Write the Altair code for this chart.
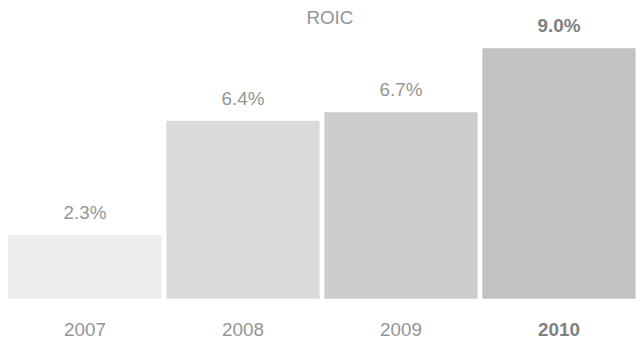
import altair as alt
import pandas as pd

# Return on invested capital by year
years = ["2007", "2008", "2009", "2010"]
roic = [2.3, 6.4, 6.7, 9.0]
labels = ["2.3%", "6.4%", "6.7%", "9.0%"]
shades = ["#ededed", "#dadada", "#cdcdcd", "#c2c2c2"]

df = pd.DataFrame({"year": years, "roic": roic, "label": labels, "shade": shades})
df["latest"] = df["year"] == years[-1]

FONT = "Liberation Sans"
TEXT_GREY = "#959595"
LATEST_GREY = "#808080"

x = alt.X(
    "year:N",
    sort=years,
    scale=alt.Scale(paddingInner=0.03, paddingOuter=0.015),
    axis=alt.Axis(
        title=None,
        labelAngle=0,
        domain=False,
        ticks=False,
        labelPadding=22,
        labelFont=FONT,
        labelFontSize=19,
        labelColor=alt.expr(f"datum.value == '{years[-1]}' ? '{LATEST_GREY}' : '{TEXT_GREY}'"),
        labelFontWeight=alt.expr(f"datum.value == '{years[-1]}' ? 'bold' : 'normal'"),
    ),
)
y = alt.Y("roic:Q", scale=alt.Scale(domain=[0, 10], nice=False), axis=None)

base = alt.Chart(df).encode(x=x, y=y)

bars = base.mark_bar().encode(color=alt.Color("shade:N", scale=None))

# value labels: earlier years in regular weight, latest year in bold
values = base.transform_filter("!datum.latest").mark_text(
    font=FONT, fontSize=19, baseline="middle", dy=-22, color=TEXT_GREY
).encode(text="label:N")

values_latest = base.transform_filter("datum.latest").mark_text(
    font=FONT, fontSize=19, baseline="middle", dy=-22, color=LATEST_GREY, fontWeight="bold"
).encode(text="label:N")

chart = (
    alt.layer(bars, values, values_latest)
    .properties(
        width=638,
        height=281,
        padding={"left": 6, "top": 19, "right": 0, "bottom": 42},
        autosize=alt.AutoSizeParams(type="none"),
        background="white",
        title=alt.TitleParams(
            "ROIC",
            anchor="middle",
            font=FONT,
            fontSize=19,
            fontWeight="normal",
            color=TEXT_GREY,
            baseline="alphabetic",
            offset=0,
            dx=8,
            dy=26,
        ),
    )
    .configure_view(strokeWidth=0, stroke="transparent")
)

chart.save("out.html", embed_options={"renderer": "svg", "actions": False})
